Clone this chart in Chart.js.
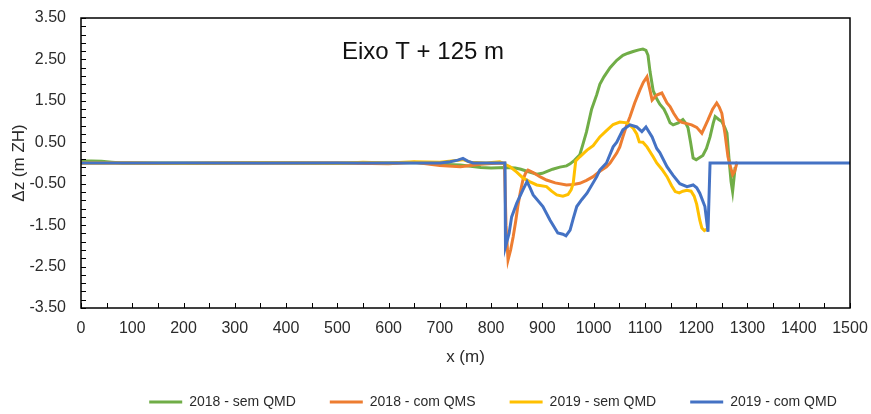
<!DOCTYPE html>
<html>
<head>
<meta charset="utf-8">
<title>Eixo T + 125 m</title>
<script src="https://cdn.jsdelivr.net/npm/chart.js@4.4.1/dist/chart.umd.min.js"></script>
<style>
  html, body { margin: 0; padding: 0; background: #ffffff; }
  #wrap { width: 871px; height: 414px; }
</style>
</head>
<body>
<div id="wrap"><canvas id="c" width="871" height="414"></canvas></div>
<script>
// ---- Perfil de diferenças de cota ao longo do eixo T + 125 m ----
const seriesNames = ['2018 - sem QMD', '2018 - com QMS', '2019 - sem QMD', '2019 - com QMD'];
const seriesColors = ['#70AD47', '#ED7D31', '#FFC000', '#4472C4'];

// 2018 - sem QMD
const x2018sem = [0, 20, 40, 60, 80, 200, 400, 600, 650, 700, 740, 760, 780, 800, 828, 847, 858, 870, 889, 900, 908, 920, 934, 947, 954, 963, 973, 979, 986, 996, 1006, 1012, 1020, 1032, 1045, 1057, 1067, 1077, 1088, 1096, 1102, 1106, 1110, 1116, 1123, 1129, 1137, 1143, 1149, 1155, 1165, 1174, 1180, 1184, 1189, 1194, 1200, 1213, 1220, 1227, 1233, 1237, 1244, 1250, 1256, 1260, 1264, 1268, 1271, 1276];
const y2018sem = [0.05, 0.05, 0.04, 0.02, 0, 0, 0, 0, 0.01, -0.03, -0.05, -0.08, -0.11, -0.12, -0.11, -0.12, -0.15, -0.2, -0.27, -0.25, -0.21, -0.15, -0.1, -0.07, -0.02, 0.07, 0.2, 0.45, 0.75, 1.3, 1.65, 1.9, 2.08, 2.3, 2.48, 2.6, 2.65, 2.69, 2.73, 2.75, 2.72, 2.6, 2.2, 1.75, 1.55, 1.42, 1.3, 1.15, 0.97, 0.92, 0.97, 1.05, 0.95, 0.85, 0.5, 0.12, 0.08, 0.18, 0.35, 0.63, 0.95, 1.12, 1.05, 1.0, 0.85, 0.72, 0.1, -0.45, -0.69, -0.1];

// 2018 - com QMS
const x2018com = [0, 100, 150, 300, 500, 600, 650, 700, 740, 760, 780, 800, 826, 829, 833, 838, 843, 848, 852, 857, 862, 867, 872, 882, 895, 908, 925, 947, 960, 973, 986, 999, 1012, 1025, 1032, 1045, 1051, 1057, 1064, 1071, 1080, 1090, 1097, 1104, 1109, 1114, 1123, 1133, 1143, 1149, 1156, 1164, 1172, 1182, 1191, 1201, 1211, 1217, 1223, 1232, 1240, 1245, 1250, 1256, 1262, 1267, 1271, 1275, 1280];
const y2018com = [0, 0, -0.01, 0, 0, -0.02, 0.02, -0.06, -0.09, -0.06, -0.03, -0.01, 0, -1.5, -2.34, -2.1, -1.78, -1.4, -1.05, -0.7, -0.41, -0.25, -0.17, -0.23, -0.33, -0.41, -0.48, -0.53, -0.52, -0.49, -0.42, -0.33, -0.2, -0.09, 0, 0.24, 0.39, 0.63, 0.9, 1.12, 1.45, 1.76, 1.95, 2.08, 1.8, 1.52, 1.64, 1.69, 1.45, 1.36, 1.2, 1.05, 0.98, 0.95, 0.92, 0.86, 0.72, 0.88, 1.04, 1.3, 1.45, 1.35, 1.2, 0.72, 0.15, -0.1, -0.28, -0.2, 0.03];

// 2019 - sem QMD
const x2019sem = [0, 100, 200, 350, 500, 550, 600, 650, 700, 745, 760, 790, 817, 827, 837, 850, 862, 875, 889, 908, 918, 928, 940, 950, 956, 960, 965, 973, 987, 999, 1012, 1025, 1038, 1051, 1065, 1077, 1084, 1089, 1096, 1104, 1116, 1123, 1133, 1143, 1152, 1159, 1167, 1174, 1182, 1190, 1196, 1201, 1207, 1211, 1216, 1220];
const y2019sem = [0, 0, -0.01, 0.01, -0.01, 0.02, 0, 0.03, 0.02, 0.08, 0.02, 0, 0.03, -0.03, -0.09, -0.22, -0.36, -0.45, -0.53, -0.57, -0.68, -0.77, -0.8, -0.76, -0.65, -0.5, 0.05, 0.15, 0.31, 0.42, 0.63, 0.78, 0.93, 0.99, 0.97, 0.84, 0.7, 0.51, 0.5, 0.39, 0.15, 0, -0.15, -0.33, -0.55, -0.69, -0.72, -0.68, -0.66, -0.68, -0.8, -1.0, -1.38, -1.57, -1.63, -1.6];

// 2019 - com QMD
const x2019com = [0, 700, 720, 735, 745, 755, 765, 827, 828, 835, 840, 850, 862, 870, 876, 882, 901, 915, 930, 940, 946, 954, 960, 967, 977, 987, 1006, 1012, 1025, 1038, 1045, 1057, 1071, 1084, 1094, 1102, 1114, 1123, 1129, 1143, 1155, 1168, 1182, 1194, 1201, 1207, 1217, 1223, 1227, 1500];
const y2019com = [0, 0, 0.03, 0.07, 0.11, 0.04, 0, 0, -2.02, -1.7, -1.3, -0.97, -0.65, -0.45, -0.6, -0.77, -1.05, -1.38, -1.69, -1.72, -1.76, -1.62, -1.35, -1.05, -0.88, -0.73, -0.33, -0.17, 0, 0.39, 0.5, 0.8, 0.92, 0.87, 0.76, 0.87, 0.63, 0.35, 0.25, -0.09, -0.3, -0.5, -0.57, -0.53, -0.6, -0.73, -1.05, -1.66, 0, 0];

// Eixos
const xMin = 0, xMax = 1500, xStep = 100, xMinorStep = 50;
const yTickLabels = [-3.5, -2.5, -1.5, -0.5, 0.5, 1.5, 2.5, 3.5];
const yMinorStep = 0.2;
const chartTitle = 'Eixo T + 125 m';
const xTitle = 'x (m)';
const yTitle = '\u0394z (m ZH)';

const xs = [x2018sem, x2018com, x2019sem, x2019com];
const ys = [y2018sem, y2018com, y2019sem, y2019com];
const drawOrder = [3, 2, 1, 0]; // 2019 - com QMD ao cimo

const fontFamily = '"Liberation Sans", Arial, sans-serif';
const textColor = '#2b2b2b';

const datasets = seriesNames.map((name, i) => ({
  label: name,
  data: xs[i].map((xv, k) => ({ x: xv, y: ys[i][k] })),
  borderColor: seriesColors[i],
  backgroundColor: seriesColors[i],
  borderWidth: 3,
  pointRadius: 0,
  pointHoverRadius: 0,
  tension: 0,
  fill: false,
  order: drawOrder[i]
}));

// moldura, marcas interiores dos eixos e título dentro da área do gráfico
const frameAndTicks = {
  id: 'frameAndTicks',
  afterDatasetsDraw(chart) {
    const { ctx, chartArea: a, scales: { x, y } } = chart;
    ctx.save();
    ctx.strokeStyle = '#000000';
    ctx.lineWidth = 1;
    ctx.beginPath();
    for (let v = y.min; v <= y.max + 1e-9; v += yMinorStep) {
      const py = Math.round(y.getPixelForValue(v)) + 0.5;
      ctx.moveTo(a.left, py); ctx.lineTo(a.left + 5, py);
    }
    for (let v = xMin; v <= xMax; v += xMinorStep) {
      const px = Math.round(x.getPixelForValue(v)) + 0.5;
      ctx.moveTo(px, a.bottom); ctx.lineTo(px, a.bottom - 5);
    }
    ctx.stroke();
    ctx.lineWidth = 1.5;
    ctx.strokeRect(a.left, a.top, a.right - a.left, a.bottom - a.top);

    ctx.fillStyle = '#111111';
    ctx.font = '24px ' + fontFamily;
    ctx.textAlign = 'center';
    ctx.textBaseline = 'middle';
    ctx.fillText(chartTitle, x.getPixelForValue(667), y.getPixelForValue(2.66));
    ctx.restore();
  }
};

// desloca a legenda para a posição pretendida
const legendShift = { dx: 68, dy: 5 };
const legendNudge = {
  id: 'legendNudge',
  afterLayout(chart) {
    const lg = chart.legend;
    if (!lg) return;
    lg.left += legendShift.dx; lg.right += legendShift.dx;
    lg.top += legendShift.dy; lg.bottom += legendShift.dy;
  }
};

new Chart(document.getElementById('c'), {
  type: 'line',
  data: { datasets },
  plugins: [frameAndTicks, legendNudge],
  options: {
    responsive: false,
    animation: false,
    devicePixelRatio: 1,
    layout: { padding: { left: 0, right: 21, top: 18, bottom: 0 } },
    plugins: {
      tooltip: { enabled: false },
      title: { display: false },
      legend: {
        position: 'bottom',
        labels: {
          boxWidth: 33,
          boxHeight: 3,
          padding: 34,
          color: textColor,
          font: { family: fontFamily, size: 14 },
          sort: (a, b) => a.datasetIndex - b.datasetIndex,
          generateLabels: (chart) =>
            Chart.defaults.plugins.legend.labels.generateLabels(chart).map(l => ({ ...l, lineWidth: 0, fillStyle: l.strokeStyle }))
        }
      }
    },
    scales: {
      x: {
        type: 'linear',
        min: xMin,
        max: xMax,
        afterFit: (s) => { s.height = 48; },
        ticks: { stepSize: xStep, color: textColor, font: { family: fontFamily, size: 16 }, padding: 0, maxRotation: 0, callback: (v) => String(v) },
        grid: { drawOnChartArea: false, drawTicks: true, tickLength: 11, color: 'rgba(0,0,0,0)' },
        border: { display: false },
        title: { display: true, text: xTitle, color: textColor, font: { family: fontFamily, size: 17 }, padding: { top: 0, bottom: -12 } }
      },
      y: {
        type: 'linear',
        min: -3.5,
        max: 3.5,
        afterFit: (s) => { s.width = 81; },
        afterBuildTicks: (s) => { s.ticks = yTickLabels.map(v => ({ value: v })); },
        ticks: { color: textColor, font: { family: fontFamily, size: 16 }, padding: 3, callback: (v) => Number(v).toFixed(2) },
        grid: { drawOnChartArea: false, drawTicks: true, tickLength: 12, color: 'rgba(0,0,0,0)' },
        border: { display: false },
        title: { display: true, text: yTitle, color: textColor, font: { family: fontFamily, size: 17 }, padding: { top: 9, bottom: 0 } }
      }
    }
  }
});
</script>
</body>
</html>
